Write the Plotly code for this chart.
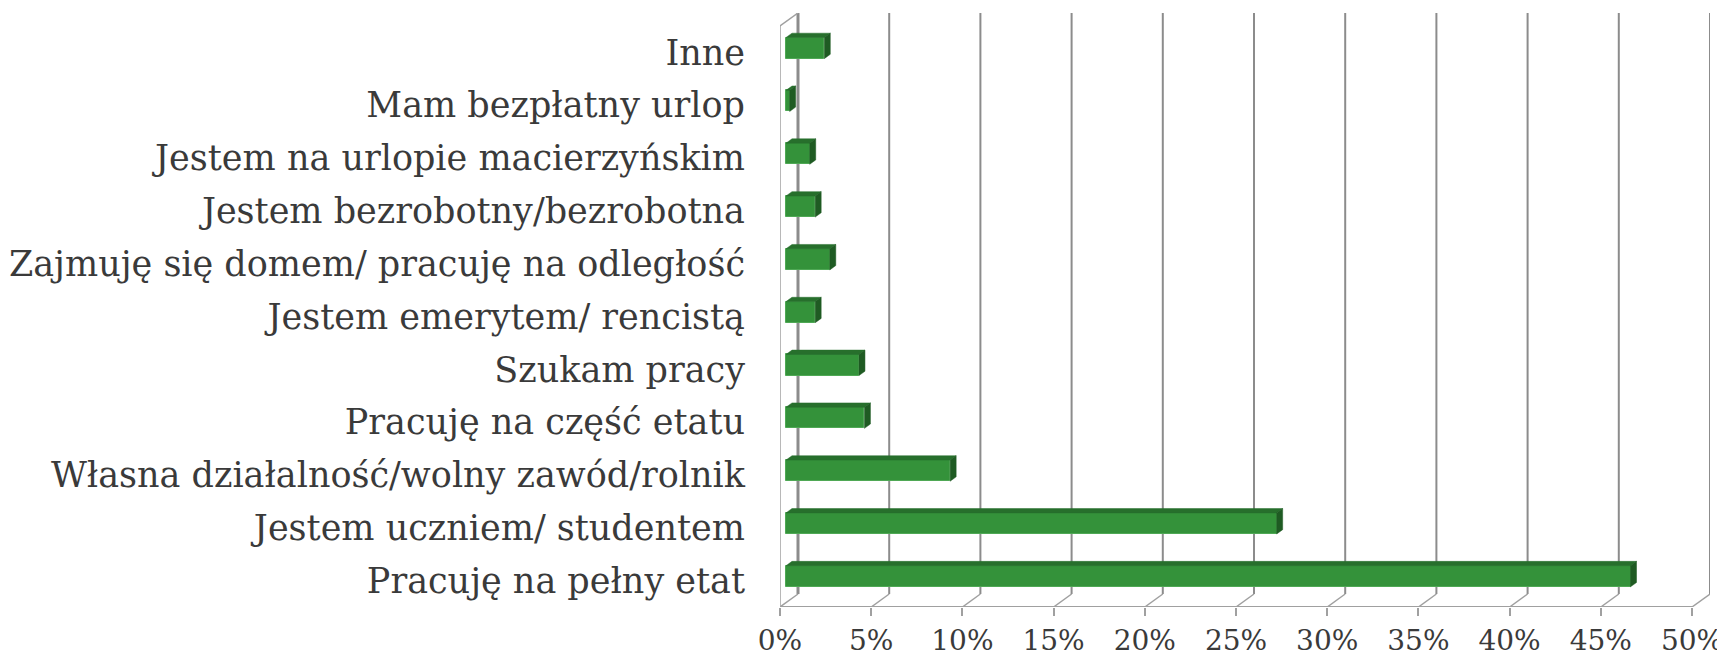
import plotly.graph_objects as go

# ---- data (bottom to top) ----
categories = [
    "Pracuję na pełny etat",
    "Jestem uczniem/ studentem",
    "Własna działalność/wolny zawód/rolnik",
    "Pracuję na część etatu",
    "Szukam pracy",
    "Jestem emerytem/ rencistą",
    "Zajmuję się domem/ pracuję na odległość",
    "Jestem bezrobotny/bezrobotna",
    "Jestem na urlopie macierzyńskim",
    "Mam bezpłatny urlop",
    "Inne",
]
values = [46.3, 26.9, 9.0, 4.3, 4.0, 1.6, 2.4, 1.6, 1.3, 0.2, 2.1]
x_ticks = [0, 5, 10, 15, 20, 25, 30, 35, 40, 45, 50]
x_ticktext = [f"{v}%" for v in x_ticks]

# ---- layout geometry (page body has an 8px margin) ----
PAGE_OFF = 8
W, H = 1725 - PAGE_OFF, 659 - PAGE_OFF
ML, MR, MT, MB = 780 - PAGE_OFF, 15, 13 - PAGE_OFF, 52
plot_w = W - ML - MR
plot_h = H - MT - MB
xmax_front = 50
px_per_x = 912 / xmax_front
x_range = [0, plot_w / px_per_x]
n = len(categories)
px_per_y = (plot_h - 13) / n
y_range = [-0.5, n - 0.5 + 13 / px_per_y]
DX = 18 / px_per_x          # depth offset (x) of back wall, in data units
DY = 13 / px_per_y          # depth offset (y) of back wall, in data units
BW = 0.4                    # bar thickness (category units)

FRONT = "#34923a"
TOP = "#276f2c"
SIDE = "#1f5b23"
GRID = "#8c8c8c"
TXT = "#3a3a3a"
FONT = "DejaVu Serif"

fig = go.Figure()

# 3D faces of bars (top and side), computed from the values
top_x, top_y, side_x, side_y = [], [], [], []
for i, v in enumerate(values):
    x0 = DX / 3
    y0 = i + DY / 3
    yt = y0 + BW / 2
    yb = y0 - BW / 2
    top_x += [x0, x0 + v, x0 + v + DX / 3, x0 + DX / 3, x0, None]
    top_y += [yt, yt, yt + DY / 3, yt + DY / 3, yt, None]
    side_x += [x0 + v, x0 + v + DX / 3, x0 + v + DX / 3, x0 + v, x0 + v, None]
    side_y += [yb, yb + DY / 3, yt + DY / 3, yt, yb, None]

fig.add_trace(go.Bar(
    x=values, y=[i + DY / 3 for i in range(n)], base=DX / 3,
    orientation="h", width=BW,
    marker=dict(color=FRONT, line=dict(color="#4fa855", width=1)),
    hoverinfo="skip", showlegend=False))
fig.add_trace(go.Scatter(x=top_x, y=top_y, fill="toself", fillcolor=TOP,
                         mode="lines", line=dict(width=0.5, color=TOP),
                         hoverinfo="skip", showlegend=False))
fig.add_trace(go.Scatter(x=side_x, y=side_y, fill="toself", fillcolor=SIDE,
                         mode="lines", line=dict(width=0.5, color=SIDE),
                         hoverinfo="skip", showlegend=False))

shapes = []
ybot, ytop = -0.5, n - 0.5
# back-wall gridlines and floor diagonals
for k in x_ticks:
    shapes.append(dict(type="line", xref="x", yref="y", layer="below",
                       x0=k + DX, x1=k + DX, y0=ybot + DY, y1=ytop + DY,
                       line=dict(color=GRID, width=3 if k == 0 else 2)))
    shapes.append(dict(type="line", xref="x", yref="y", layer="below",
                       x0=k, x1=k + DX, y0=ybot, y1=ybot + DY,
                       line=dict(color="#a0a0a0", width=1.5)))
# floor front edge
shapes.append(dict(type="line", xref="x", yref="y", layer="below",
                   x0=0, x1=xmax_front, y0=ybot, y1=ybot,
                   line=dict(color="#a0a0a0", width=2)))
# left wall front edge + top diagonal
shapes.append(dict(type="line", xref="x", yref="y", layer="below",
                   x0=0, x1=0, y0=ybot, y1=ytop,
                   line=dict(color="#a0a0a0", width=1.5)))
shapes.append(dict(type="line", xref="x", yref="y", layer="below",
                   x0=0, x1=DX, y0=ytop, y1=ytop + DY,
                   line=dict(color="#a0a0a0", width=1.5)))
# y-axis ticks at category boundaries
for b in range(n + 1):
    shapes.append(dict(type="line", xref="x", yref="y", layer="below",
                       xsizemode="pixel", xanchor=0, x0=-12, x1=0,
                       y0=b - 0.5, y1=b - 0.5,
                       line=dict(color="#a0a0a0", width=2)))

fig.update_layout(
    width=W, height=H,
    margin=dict(l=ML, r=MR, t=MT, b=MB),
    paper_bgcolor="white", plot_bgcolor="white",
    shapes=shapes,
    bargap=0,
    font=dict(family=FONT, color=TXT),
    xaxis=dict(range=x_range, tickvals=x_ticks, ticktext=x_ticktext,
               showgrid=False, zeroline=False, showline=False, automargin=False,
               ticks="outside", ticklen=8, tickwidth=2, tickcolor="#a0a0a0",
               tickfont=dict(family=FONT, size=28, color=TXT),
               ticklabelstandoff=0, fixedrange=True),
    yaxis=dict(range=y_range, tickvals=list(range(n)), ticktext=categories,
               showgrid=False, zeroline=False, showline=False, automargin=False,
               ticks="", tickfont=dict(family=FONT, size=35, color=TXT),
               ticklabelstandoff=34, fixedrange=True),
)

fig.write_html("out.html")
